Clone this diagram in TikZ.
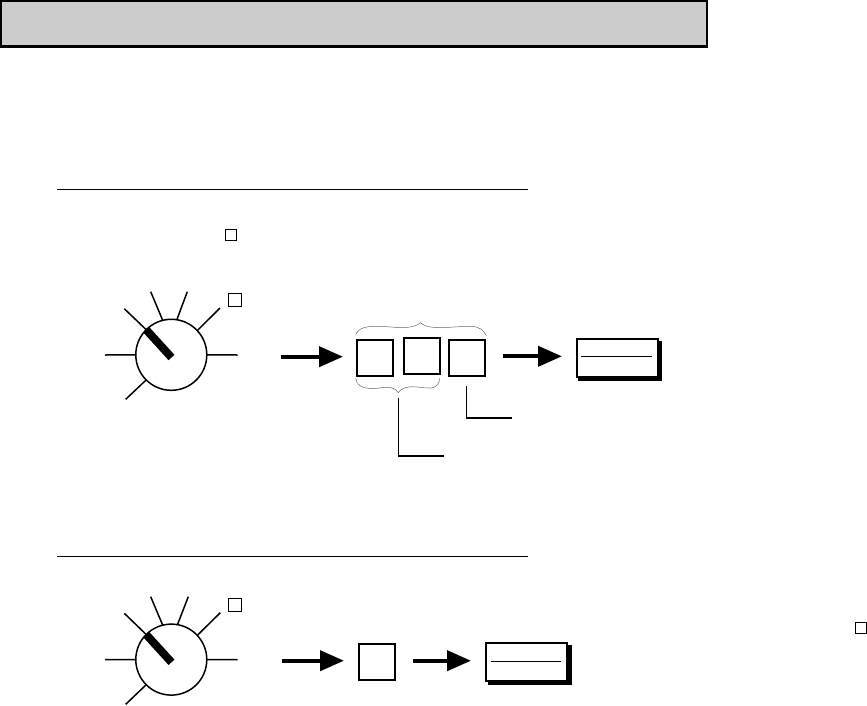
\documentclass[tikz,border=0pt]{standalone}
\usetikzlibrary{arrows.meta}
\tikzset{
  sq/.style={draw=black,line width=2pt,fill=white,inner sep=0pt,outer sep=0pt,minimum width=36pt,minimum height=36pt},
  tiny/.style={draw=black,line width=.9pt,inner sep=0pt,outer sep=0pt,minimum width=#1,minimum height=#1},
  tiny/.default=12pt,
  dial/.style={circle,draw=black,line width=1.5pt,fill=white,inner sep=0pt,outer sep=0pt,minimum size=71pt},
  tick/.style={line width=1.5pt},
  knob/.style={line width=8pt},
  bigarrow/.style={line width=4pt,-{Triangle[length=24pt,width=20pt]},shorten >=0pt},
  rulel/.style={line width=1pt},
  leader/.style={line width=1.5pt},
  brace/.style={line width=.5pt,draw=black!60},
  result/.style={draw=black,line width=2pt,fill=white,inner sep=0pt,outer sep=0pt,minimum width=81pt,minimum height=38pt},
  shadowbox/.style={fill=black,inner sep=0pt,outer sep=0pt,minimum width=84pt,minimum height=40pt},
  inner/.style={line width=1pt}
}
\begin{document}
\begin{tikzpicture}[x=1pt,y=-1pt]
\useasboundingbox (0,0) rectangle (867,705);
% header
\node[draw=black,line width=2.6pt,fill=black!20,inner sep=0pt,outer sep=0pt,minimum width=706pt,minimum height=45.6pt] (head) at (354,23.8) {};
% rules
\coordinate (r1a) at (57,189); \coordinate (r1b) at (528,189);
\draw[rulel] (r1a) -- (r1b);
\coordinate (r2a) at (57,556); \coordinate (r2b) at (528,556);
\draw[rulel] (r2a) -- (r2b);
% small squares
\node[tiny=11pt] (s1) at (231,235) {};
\node[tiny=13pt] (s2) at (235,300.3) {};
\node[tiny=13pt] (s3) at (235,605) {};
\node[tiny=11pt] (s4) at (860.5,628) {};
% first dial
\node[dial] (d1) at (171.3,354.8) {};
\foreach \n/\x/\y/\a in {w/105/355/180,e/237.7/355/0,ul/124.3/308.7/135,ua/150.7/291.7/104,ub/187.3/291.7/81,ur/220/308/43,ll/125.7/399.3/225}{
  \coordinate (t1\n) at (\x,\y);
  \draw[tick] (t1\n) -- (d1.\a);
}
\coordinate (k1) at (171.5,357.5);
\draw[knob] (d1.135) -- (k1);
% first chain
\coordinate (a1s) at (281,356.7); \coordinate (a1e) at (343,356.7);
\draw[bigarrow] (a1s) -- (a1e);
\node[sq] (b1) at (374.5,357.5) {};
\node[sq] (b2) at (421.5,356.3) {};
\node[sq] (b3) at (467.3,357.5) {};
\coordinate (a2s) at (503,356.3); \coordinate (a2e) at (562,356.3);
\draw[bigarrow] (a2s) -- (a2e);
\node[shadowbox] (rs1) at (620,361.2) {};
\node[result] (r1) at (617,358.2) {};
\coordinate (i1a) at (581,356.3); \coordinate (i1b) at (652,356.3);
\draw[inner] (i1a) -- (i1b);
% braces
\draw[brace] (355.7,335) .. controls (358,328) and (366,326.3) .. (376,326.3)
  .. controls (390,326.3) and (395,328) .. (405,327.5)
  .. controls (414,327) and (418,325) .. (420.3,322.7)
  .. controls (423,325) and (427,327) .. (436,327.5)
  .. controls (448,328) and (458,326.3) .. (470,326.3)
  .. controls (479,326.3) and (484,330) .. (486.3,335.7);
\draw[brace] (355.7,378) .. controls (356,385) and (362,388.5) .. (372,388.5)
  .. controls (381,388.5) and (384,386.5) .. (390,387.5)
  .. controls (394,388.3) and (397,390) .. (398.3,392.7)
  .. controls (400,390) and (403,387.5) .. (410,386.8)
  .. controls (418,386.3) and (424,388.5) .. (431,388)
  .. controls (436,387.5) and (439,384) .. (440,378);
% leaders
\coordinate (l1a) at (398.7,398.3); \coordinate (l1b) at (398.7,456); \coordinate (l1c) at (444,456);
\draw[leader] (l1a) -- (l1b) -- (l1c);
\coordinate (l2a) at (466.7,386); \coordinate (l2b) at (466.7,418); \coordinate (l2c) at (512,418);
\draw[leader] (l2a) -- (l2b) -- (l2c);
% second dial
\node[dial] (d2) at (171.3,659.6) {};
\foreach \n/\x/\y/\a in {w/105/659.7/180,e/237.7/659.7/0,ul/124.3/613.3/135,ua/150.7/596.7/104,ub/188.3/596.7/80,ur/220.3/612.7/43,ll/125.7/704.3/225}{
  \coordinate (t2\n) at (\x,\y);
  \draw[tick] (t2\n) -- (d2.\a);
}
\coordinate (k2) at (171.5,662.3);
\draw[knob] (d2.135) -- (k2);
% second chain
\coordinate (a3s) at (282,660.7); \coordinate (a3e) at (344,660.7);
\draw[bigarrow] (a3s) -- (a3e);
\node[sq] (b4) at (376.8,661.7) {};
\coordinate (a4s) at (413,660.7); \coordinate (a4e) at (471,660.7);
\draw[bigarrow] (a4s) -- (a4e);
\node[shadowbox] (rs2) at (529.5,664.8) {};
\node[result] (r2) at (526.5,661.8) {};
\coordinate (i2a) at (491,661); \coordinate (i2b) at (561,661);
\draw[inner] (i2a) -- (i2b);
\end{tikzpicture}
\end{document}
